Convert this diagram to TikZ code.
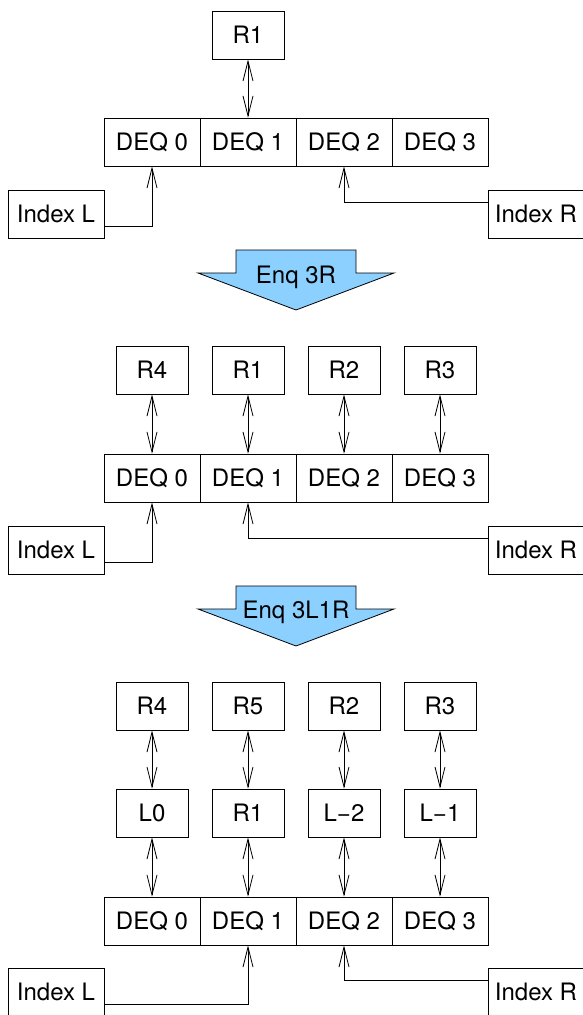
\documentclass[tikz,border=0pt]{standalone}
\usepackage{fontspec}
\setmainfont{TeX Gyre Heros}
\usetikzlibrary{arrows.meta}
\definecolor{arrowblue}{RGB}{140,208,255}
\begin{document}
\begin{tikzpicture}[x=1pt,y=-1pt,
  every node/.style={font=\fontsize{24}{28}\selectfont, inner sep=0pt},
  cell/.style={draw, line width=0.9pt, minimum width=96pt, minimum height=48pt},
  rbox/.style={draw, line width=0.9pt, minimum width=72pt, minimum height=48pt},
  dbl/.style={line width=0.8pt, {Straight Barb[length=20pt,width=10pt]}-{Straight Barb[length=20pt,width=10pt]}},
  arr/.style={line width=0.8pt, -{Straight Barb[length=20pt,width=10pt]}},
  bigarrow/.style={draw, line width=0.8pt, fill=arrowblue, line join=miter}
]
\useasboundingbox (0,0) rectangle (582,1015);

% ---------- Section 1 ----------
\node[rbox] (aR1) at (248,35) {R1};
\foreach \i in {0,1,2,3} {
  \node[cell] (aD\i) at (152+96*\i,142) {DEQ \i};
}
\node[cell] (aIL) at (56,214) {Index L};
\node[cell] (aIR) at (536,214) {Index R};
\draw[dbl] (aR1.south) -- (aD1.north);
\draw[arr] (aIL.east) ++(0,12) -| (aD0.south);
\draw[arr] (aIR.west) ++(0,-12) -| (aD2.south);

% big arrow 1
\draw[bigarrow] (236,250) -- (356,250) -- (356,273) -- (394,273) -- (296,310) -- (198,273) -- (236,273) -- cycle;
\node (aEnq) at (296,277) {Enq 3R};

% ---------- Section 2 ----------
\node[rbox] (bR0) at (152,370) {R4};
\node[rbox] (bR1) at (248,370) {R1};
\node[rbox] (bR2) at (344,370) {R2};
\node[rbox] (bR3) at (440,370) {R3};
\foreach \i in {0,1,2,3} {
  \node[cell] (bD\i) at (152+96*\i,478) {DEQ \i};
  \draw[dbl] (bR\i.south) -- (bD\i.north);
}
\node[cell] (bIL) at (56,550) {Index L};
\node[cell] (bIR) at (536,550) {Index R};
\draw[arr] (bIL.east) ++(0,12) -| (bD0.south);
\draw[arr] (bIR.west) ++(0,-12) -| (bD1.south);

% big arrow 2
\draw[bigarrow] (236,586) -- (356,586) -- (356,609) -- (394,609) -- (296,646) -- (198,609) -- (236,609) -- cycle;
\node (bEnq) at (296,612) {Enq 3L1R};

% ---------- Section 3 ----------
\node[rbox] (cR0) at (152,706) {R4};
\node[rbox] (cR1) at (248,706) {R5};
\node[rbox] (cR2) at (344,706) {R2};
\node[rbox] (cR3) at (440,706) {R3};
\node[rbox] (cL0) at (152,813) {L0};
\node[rbox] (cL1) at (248,813) {R1};
\node[rbox] (cL2) at (344,813) {L−2};
\node[rbox] (cL3) at (440,813) {L−1};
\foreach \i in {0,1,2,3} {
  \node[cell] (cD\i) at (152+96*\i,921) {DEQ \i};
  \draw[dbl] (cR\i.south) -- (cL\i.north);
  \draw[dbl] (cL\i.south) -- (cD\i.north);
}
\node[cell] (cIL) at (56,992) {Index L};
\node[cell] (cIR) at (536,992) {Index R};
\draw[arr] (cIL.east) ++(0,12) -| (cD1.south);
\draw[arr] (cIR.west) ++(0,-12) -| (cD2.south);
\end{tikzpicture}
\end{document}
